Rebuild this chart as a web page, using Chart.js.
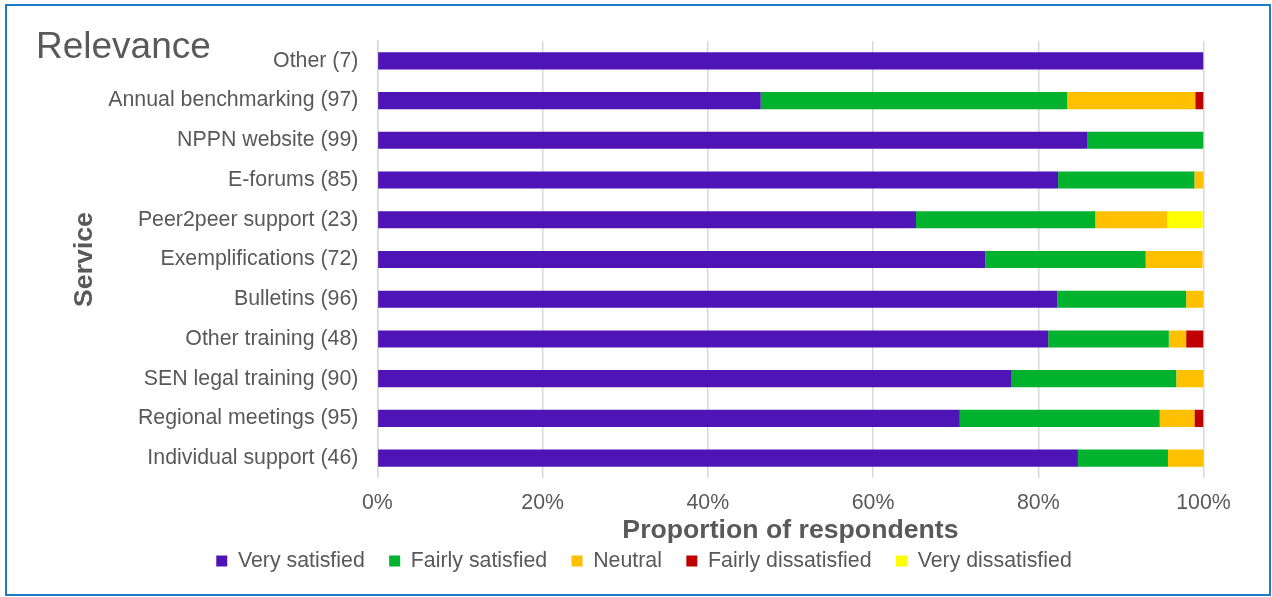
<!DOCTYPE html>
<html>
<head>
<meta charset="utf-8">
<title>Relevance</title>
<script src="https://cdn.jsdelivr.net/npm/chart.js@4/dist/chart.umd.min.js"></script>
<style>
  html, body { margin: 0; padding: 0; background: #fff; }
  canvas { display: block; }
</style>
</head>
<body>
<canvas id="chartRelevance" width="1272" height="597"></canvas>
<script>
const services = ["Other (7)", "Annual benchmarking (97)", "NPPN website (99)", "E-forums (85)",
  "Peer2peer support (23)", "Exemplifications (72)", "Bulletins (96)", "Other training (48)",
  "SEN legal training (90)", "Regional meetings (95)", "Individual support (46)"];
const verySatisfied   = [100, 46.4, 85.9, 82.4, 65.2, 73.6, 82.3, 81.2, 76.7, 70.5, 84.8];
const fairlySatisfied = [0, 37.1, 14.1, 16.5, 21.7, 19.4, 15.6, 14.6, 20.0, 24.2, 10.9];
const neutral         = [0, 15.5, 0, 1.1, 8.7, 6.9, 2.1, 2.1, 3.3, 4.2, 4.3];
const fairlyDissat    = [0, 1.0, 0, 0, 0, 0, 0, 2.1, 0, 1.1, 0];
const veryDissat      = [0, 0, 0, 0, 4.3, 0, 0, 0, 0, 0, 0];
const xTicks = [0, 20, 40, 60, 80, 100];

const FONT = "'Liberation Sans', Arial, sans-serif";
const GREY = "#595959";

// frame + "Relevance" heading
const decor = {
  id: "decor",
  afterDraw(chart) {
    const c = chart.ctx;
    c.save();
    c.strokeStyle = "#1f7bc6";
    c.lineWidth = 2;
    c.strokeRect(6, 5, 1264, 590);
    c.fillStyle = GREY;
    c.font = "37px " + FONT;
    c.textBaseline = "alphabetic";
    c.textAlign = "left";
    c.fillText("Relevance", 36, 58);
    c.restore();
  }
};

const ctx = document.getElementById("chartRelevance").getContext("2d");
const chart = new Chart(ctx, {
  type: "bar",
  data: {
    labels: services,
    datasets: [
      { label: "Very satisfied", data: verySatisfied, backgroundColor: "#4f14b5" },
      { label: "Fairly satisfied", data: fairlySatisfied, backgroundColor: "#00b22e" },
      { label: "Neutral", data: neutral, backgroundColor: "#ffc000" },
      { label: "Fairly dissatisfied", data: fairlyDissat, backgroundColor: "#c00000" },
      { label: "Very dissatisfied", data: veryDissat, backgroundColor: "#ffff00" }
    ]
  },
  options: {
    indexAxis: "y",
    responsive: false,
    animation: false,
    devicePixelRatio: 1,
    barPercentage: 0.43,
    categoryPercentage: 1,
    layout: { padding: { top: 41, right: 68.5, bottom: 15.4, left: 84.5 } },
    scales: {
      x: {
        stacked: true,
        min: 0,
        max: 100,
        afterBuildTicks: (s) => { s.ticks = xTicks.map(v => ({ value: v })); },
        afterFit: (s) => { s.height = 47.9; },
        grid: { color: "#d9d9d9", lineWidth: 1.5, drawTicks: false },
        border: { display: false },
        ticks: {
          padding: 12.5,
          color: GREY,
          font: { family: FONT, size: 21.33 },
          callback: (v) => v + "%"
        },
        title: {
          display: true,
          text: "Proportion of respondents",
          color: GREY,
          font: { family: FONT, size: 26.67, weight: "bold", lineHeight: 1 },
          padding: { top: 0, bottom: -18 }
        }
      },
      y: {
        stacked: true,
        afterFit: (s) => { s.width = 377.4 - 84.5; },
        grid: { display: false, drawTicks: false },
        border: { display: true, color: "#d9d9d9", width: 1.5 },
        ticks: {
          padding: 19,
          color: GREY,
          font: { family: FONT, size: 21.33 }
        },
        title: {
          display: true,
          text: "Service",
          color: GREY,
          font: { family: FONT, size: 26.67, weight: "bold" },
          padding: { top: -15.5, bottom: 0 }
        }
      }
    },
    plugins: {
      legend: {
        position: "bottom",
        labels: {
          boxWidth: 11,
          boxHeight: 11,
          padding: 24.4,
          color: GREY,
          font: { family: FONT, size: 21.33 }
        }
      },
      tooltip: { enabled: false }
    }
  },
  plugins: [decor]
});
</script>
</body>
</html>
